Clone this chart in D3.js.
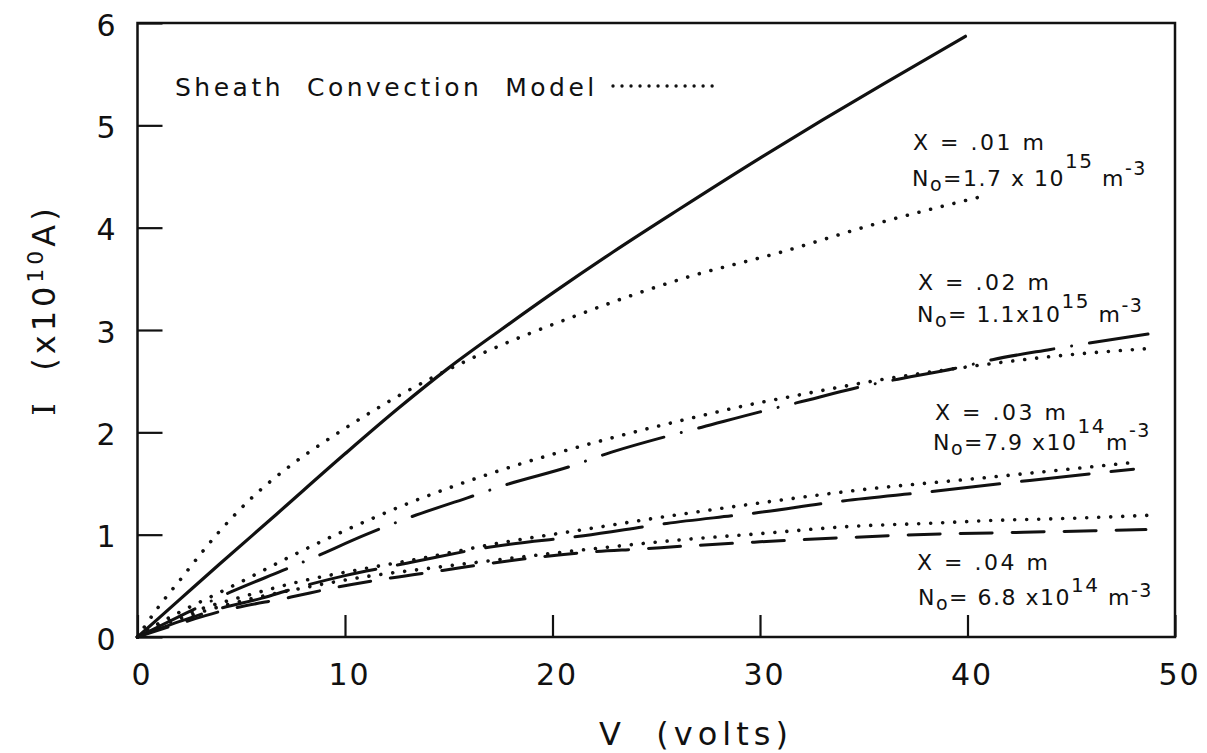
<!DOCTYPE html>
<html>
<head>
<meta charset="utf-8">
<script src="https://cdn.jsdelivr.net/npm/d3@7"></script>
<style>
  html, body { margin: 0; padding: 0; background: #ffffff; }
  svg { display: block; }
  text { font-family: "DejaVu Sans", sans-serif; fill: #111; }
</style>
</head>
<body>
<svg id="chart" width="1207" height="753"></svg>
<script>
// ---------------- data (V in volts, I in 1e10 A) ----------------
const xTicks = [0, 10, 20, 30, 40, 50];
const yTicks = [0, 1, 2, 3, 4, 5, 6];

// X = .01 m  measured (solid)
const exp01 = [[0,0],[2,0.36],[4,0.72],[6.7,1.2],[10,1.79],[12.6,2.24],[15,2.63],[17.5,3.0],[20,3.36],[22.9,3.76],[26.1,4.18],[30,4.68],[33,5.05],[36,5.41],[39.9,5.87]];
// X = .01 m  sheath convection model (dotted)
const model01 = [[0,0],[1,0.29],[2.1,0.57],[3.9,1.02],[5.4,1.34],[7.4,1.68],[9.25,1.94],[11.6,2.24],[12.7,2.37],[16.5,2.76],[21,3.13],[26.4,3.51],[31,3.76],[35.8,4.05],[40.6,4.3]];
// X = .02 m  measured (dash-dot)
const exp02 = [[0,0],[2,0.2],[4.5,0.44],[7,0.65],[8.3,0.76],[11,1.0],[13,1.16],[15.9,1.36],[17.8,1.49],[20.9,1.67],[22.6,1.79],[25.5,1.96],[27.2,2.05],[30,2.2],[31.8,2.29],[35.2,2.46],[36.4,2.51],[39.5,2.63],[41.2,2.71],[44,2.81],[48.7,2.96]];
// X = .02 m  model (dotted)
const model02 = [[0,0],[1,0.13],[2,0.24],[3.9,0.43],[5,0.54],[7.6,0.81],[10,1.04],[13.1,1.31],[17.5,1.63],[22.2,1.91],[26.5,2.13],[29.5,2.27],[31.5,2.35],[36,2.52],[40,2.64],[44,2.74],[48.8,2.82]];
// X = .03 m  measured (long dash)
const exp03 = [[0,0],[2,0.15],[4,0.28],[6,0.38],[7.5,0.47],[10,0.6],[12.2,0.69],[13.2,0.73],[17,0.88],[21.5,0.99],[25.5,1.11],[29.7,1.21],[34,1.33],[38.2,1.42],[43,1.53],[48,1.64]];
// X = .03 m  model (dotted)
const model03 = [[0,0],[1,0.11],[3,0.27],[5,0.39],[8,0.55],[11,0.67],[13.2,0.75],[17.5,0.92],[21.5,1.05],[26.2,1.2],[30,1.31],[34.5,1.43],[41,1.56],[48.2,1.71]];
// X = .04 m  measured (short dash)
const exp04 = [[0,0],[2,0.13],[4,0.25],[7.4,0.39],[9.7,0.49],[12.3,0.58],[14.7,0.65],[17,0.72],[21.8,0.83],[24.2,0.86],[26.5,0.89],[30,0.93],[34,0.97],[37.5,1.0],[42,1.02],[48.6,1.05]];
// X = .04 m  model (dotted)
const model04 = [[0,0],[1,0.1],[3,0.24],[5,0.35],[8,0.48],[11,0.59],[14,0.67],[18,0.77],[22.3,0.87],[26.2,0.95],[30,1.01],[34.3,1.08],[38,1.11],[41.4,1.14],[45,1.16],[48.8,1.19]];

const legendText = "Sheath  Convection  Model";
const labelX = ["X = .01 m", "X = .02 m", "X = .03 m", "X = .04 m"];
const labelNmant = ["=1.7 x 10", "= 1.1x10", "=7.9 x10", "= 6.8 x10"];
const labelNexp = ["15", "15", "14", "14"];
const labelNunit = [" m", " m", "m", " m"];

// ---------------- layout ----------------
const svg = d3.select("#chart");
const x = d3.scaleLinear().domain([0, 50]).range([137.5, 1175]);
const y = d3.scaleLinear().domain([0, 6]).range([637, 23]);

const line = d3.line().x(d => x(d[0])).y(d => y(d[1])).curve(d3.curveMonotoneX);

// frame
svg.append("rect")
  .attr("x", x(0)).attr("y", y(6))
  .attr("width", x(50) - x(0)).attr("height", y(0) - y(6))
  .attr("fill", "none").attr("stroke", "#111").attr("stroke-width", 2.5);

// axes
const gx = svg.append("g").attr("transform", `translate(0,${y(0)})`)
  .call(d3.axisBottom(x).tickValues(xTicks).tickSize(-22).tickPadding(27).tickFormat(d3.format("d")));
const gy = svg.append("g").attr("transform", `translate(${x(0)},0)`)
  .call(d3.axisLeft(y).tickValues(yTicks).tickSize(-25).tickPadding(20).tickFormat(d3.format("d")));
[gx, gy].forEach(g => {
  g.select(".domain").remove();
  g.selectAll(".tick line").attr("stroke", "#111").attr("stroke-width", 2.2);
  g.selectAll(".tick text").attr("font-size", 30).attr("fill", "#111")
    .style("font-family", '"DejaVu Sans", sans-serif').attr("letter-spacing", 2);
});
gx.selectAll(".tick text").attr("dx", 4);
gy.selectAll(".tick text").attr("dy", "0.4em");

// curves
const styles = [
  {data: exp01,   dash: null,                 w: 3.2},
  {data: model01, dash: "0.01 12",            w: 3.6},
  {data: exp02,   dash: "64 18 0.01 18",      w: 3.0},
  {data: model02, dash: "0.01 12",            w: 3.6},
  {data: exp03,   dash: "68 22",              w: 3.0},
  {data: model03, dash: "0.01 12",            w: 3.6},
  {data: exp04,   dash: "32 20",              w: 3.0},
  {data: model04, dash: "0.01 12",            w: 3.6}
];
styles.forEach(s => {
  svg.append("path").datum(s.data)
    .attr("d", line)
    .attr("fill", "none").attr("stroke", "#111")
    .attr("stroke-width", s.w)
    .attr("stroke-linecap", "round")
    .attr("stroke-dasharray", s.dash);
});

// legend
svg.append("text").attr("x", 175).attr("y", 96).attr("font-size", 25)
  .attr("letter-spacing", 3.5).style("white-space", "pre").text(legendText);
svg.append("line").attr("x1", 613).attr("x2", 717).attr("y1", 86).attr("y2", 86)
  .attr("stroke", "#111").attr("stroke-width", 3.4).attr("stroke-linecap", "round")
  .attr("stroke-dasharray", "0.01 9");

// annotations
const annPos = [
  {xx: 913, xy: 150, nx: 912, ny: 186, sup: 18, sup2: 11},
  {xx: 918, xy: 290, nx: 917, ny: 322, sup: 14, sup2: 10},
  {xx: 935, xy: 420, nx: 933, ny: 450, sup: 17, sup2: 13},
  {xx: 917, xy: 570, nx: 918, ny: 605, sup: 13, sup2: 8}
];
annPos.forEach((p, i) => {
  svg.append("text").attr("x", p.xx).attr("y", p.xy).attr("font-size", 22)
    .attr("letter-spacing", 2.5).style("white-space", "pre").text(labelX[i]);
  const t = svg.append("text").attr("x", p.nx).attr("y", p.ny).attr("font-size", 22)
    .attr("letter-spacing", 1.5).style("white-space", "pre");
  t.append("tspan").text("N");
  t.append("tspan").attr("dy", 5).attr("font-size", 19).text("o");
  t.append("tspan").attr("dy", -5).text(labelNmant[i]);
  t.append("tspan").attr("dy", -p.sup).attr("font-size", 20).text(labelNexp[i]);
  t.append("tspan").attr("dy", p.sup).text(labelNunit[i]);
  t.append("tspan").attr("dy", -p.sup2).attr("font-size", 19).text("-3");
});

// axis titles
const xt = svg.append("text").attr("x", 696).attr("y", 745).attr("font-size", 32)
  .attr("text-anchor", "middle").attr("letter-spacing", 5).style("white-space", "pre");
xt.text("V  (volts)");

const yt = svg.append("text").attr("transform", "translate(55,310) rotate(-90)")
  .attr("font-size", 32).attr("text-anchor", "middle").attr("letter-spacing", 4)
  .style("white-space", "pre");
yt.append("tspan").style("font-family", '"DejaVu Serif", serif').text("I");
yt.append("tspan").text("  (x10");
yt.append("tspan").attr("dy", -12).attr("font-size", 22).text("10");
yt.append("tspan").attr("dy", 12).text("A)");
</script>
</body>
</html>
